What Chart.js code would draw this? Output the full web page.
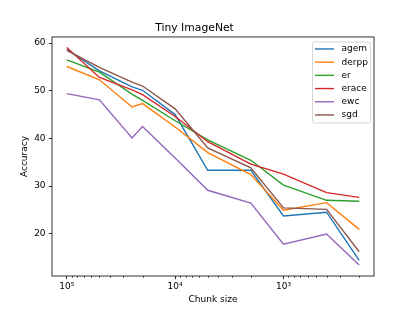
<!DOCTYPE html>
<html>
<head>
<meta charset="utf-8">
<script src="https://cdn.jsdelivr.net/npm/chart.js@4.4.0/dist/chart.umd.min.js"></script>
<style>
  html, body { margin: 0; padding: 0; background: #fff; }
  canvas { display: block; }
</style>
</head>
<body>
<canvas id="chart" width="415" height="311"></canvas>
<script>
// =================== DATA ===================
const chunkSizes = [100000, 50000, 25000, 20000, 10000, 5000, 2000, 1000, 400, 200];

const agem  = [58.7, 54.2, 50.8, 50.1, 45.0, 33.3, 33.3, 23.7, 24.5, 14.4];
const derpp = [55.1, 52.3, 46.6, 47.3, 42.4, 37.0, 32.4, 24.9, 26.5, 20.9];
const er    = [56.5, 53.9, 49.3, 48.0, 43.7, 39.7, 35.4, 30.2, 27.0, 26.8];
const erace = [59.1, 52.8, 50.2, 49.2, 44.6, 39.3, 34.6, 32.5, 28.6, 27.6];
const ewc   = [49.4, 48.1, 40.1, 42.5, 35.9, 29.1, 26.4, 17.8, 19.9, 13.4];
const sgd   = [58.5, 54.9, 51.8, 51.0, 46.2, 38.0, 33.8, 25.4, 25.1, 16.2];

const seriesNames = ["agem", "derpp", "er", "erace", "ewc", "sgd"];
const seriesData = [agem, derpp, er, erace, ewc, sgd];
const colors = ["#1f77b4", "#ff7f0e", "#2ca02c", "#d62728", "#9467bd", "#8c564b"];

const xTicks = [100000, 10000, 1000];
const xTickLabels = ["10\u2075", "10\u2074", "10\u00b3"];
const xMinorTicks = [200, 300, 400, 500, 600, 700, 800, 900,
                     2000, 3000, 4000, 5000, 6000, 7000, 8000, 9000,
                     20000, 30000, 40000, 50000, 60000, 70000, 80000, 90000];
const yTicks = [20, 30, 40, 50, 60];

// =================== CHART ===================
Chart.defaults.font.family = "'DejaVu Sans', sans-serif";
Chart.defaults.font.size = 9;
Chart.defaults.color = "#000";

const datasets = seriesNames.map((name, i) => ({
  label: name,
  data: chunkSizes.map((c, j) => ({ x: c, y: seriesData[i][j] })),
  borderColor: colors[i],
  backgroundColor: colors[i],
  borderWidth: 1.4,
  pointRadius: 0,
  tension: 0,
  fill: false,
  order: seriesNames.length - i   // later series on top, like matplotlib
}));

// frame, minor ticks and legend, matplotlib style
const decorPlugin = {
  id: "decor",
  afterDraw(chart) {
    const { ctx, chartArea: a, scales } = chart;
    ctx.save();

    // minor x ticks
    ctx.strokeStyle = "#000";
    ctx.lineWidth = 0.6;
    xMinorTicks.forEach(v => {
      const px = Math.round(scales.x.getPixelForValue(v)) + 0.5;
      ctx.beginPath();
      ctx.moveTo(px, a.bottom);
      ctx.lineTo(px, a.bottom + 2);
      ctx.stroke();
    });

    // axes box
    ctx.strokeStyle = "#000";
    ctx.lineWidth = 0.8;
    ctx.strokeRect(a.left, a.top, a.right - a.left, a.bottom - a.top);

    // legend (upper right)
    const boxW = 58, boxH = 81;
    const bx = a.right - 4 - boxW, by = a.top + 4.5;
    ctx.fillStyle = "rgba(255,255,255,0.8)";
    ctx.strokeStyle = "#cccccc";
    ctx.lineWidth = 0.8;
    ctx.beginPath();
    ctx.roundRect(bx + 0.5, by + 0.5, boxW, boxH, 2);
    ctx.fill();
    ctx.stroke();

    ctx.font = "9px 'DejaVu Sans'";
    ctx.textBaseline = "middle";
    ctx.textAlign = "left";
    chart.data.datasets.forEach((ds, i) => {
      const ry = by + 7.5 + i * 13.2;
      ctx.strokeStyle = ds.borderColor;
      ctx.lineWidth = 1.4;
      ctx.beginPath();
      ctx.moveTo(bx + 3, ry);
      ctx.lineTo(bx + 22, ry);
      ctx.stroke();
      ctx.fillStyle = "#000";
      ctx.fillText(ds.label, bx + 29.5, ry);
    });

    ctx.restore();
  }
};

new Chart(document.getElementById("chart"), {
  type: "line",
  data: { datasets },
  plugins: [decorPlugin],
  options: {
    responsive: false,
    animation: false,
    layout: { padding: { left: 15, right: 41, top: 0, bottom: 0 } },
    plugins: {
      legend: { display: false },
      tooltip: { enabled: false },
      title: {
        display: true,
        text: "Tiny ImageNet",
        color: "#000",
        font: { size: 10.8, weight: "normal" },
        padding: { top: 22, bottom: 2 }
      }
    },
    scales: {
      x: {
        type: "logarithmic",
        reverse: true,
        min: 146,
        max: 137000,
        afterBuildTicks: s => { s.ticks = xTicks.map(v => ({ value: v })); },
        afterFit: s => { s.height = 35; },
        ticks: {
          autoSkip: false,
          maxRotation: 0,
          padding: 2,
          callback: (v, i) => xTickLabels[i]
        },
        grid: { drawOnChartArea: false, drawTicks: true, tickLength: 3.2, tickColor: "#000", tickWidth: 0.8 },
        border: { display: false },
        title: { display: true, text: "Chunk size", padding: { top: 0, bottom: 5.5 } }
      },
      y: {
        type: "linear",
        min: 11.1,
        max: 61.3,
        afterBuildTicks: s => { s.ticks = yTicks.map(v => ({ value: v })); },
        afterFit: s => { s.width = 37; },
        ticks: { padding: 3.2 },
        grid: { drawOnChartArea: false, drawTicks: true, tickLength: 3.2, tickColor: "#000", tickWidth: 0.8 },
        border: { display: false },
        title: { display: true, text: "Accuracy", padding: { top: 4, bottom: 4 } }
      }
    }
  }
});
</script>
</body>
</html>
